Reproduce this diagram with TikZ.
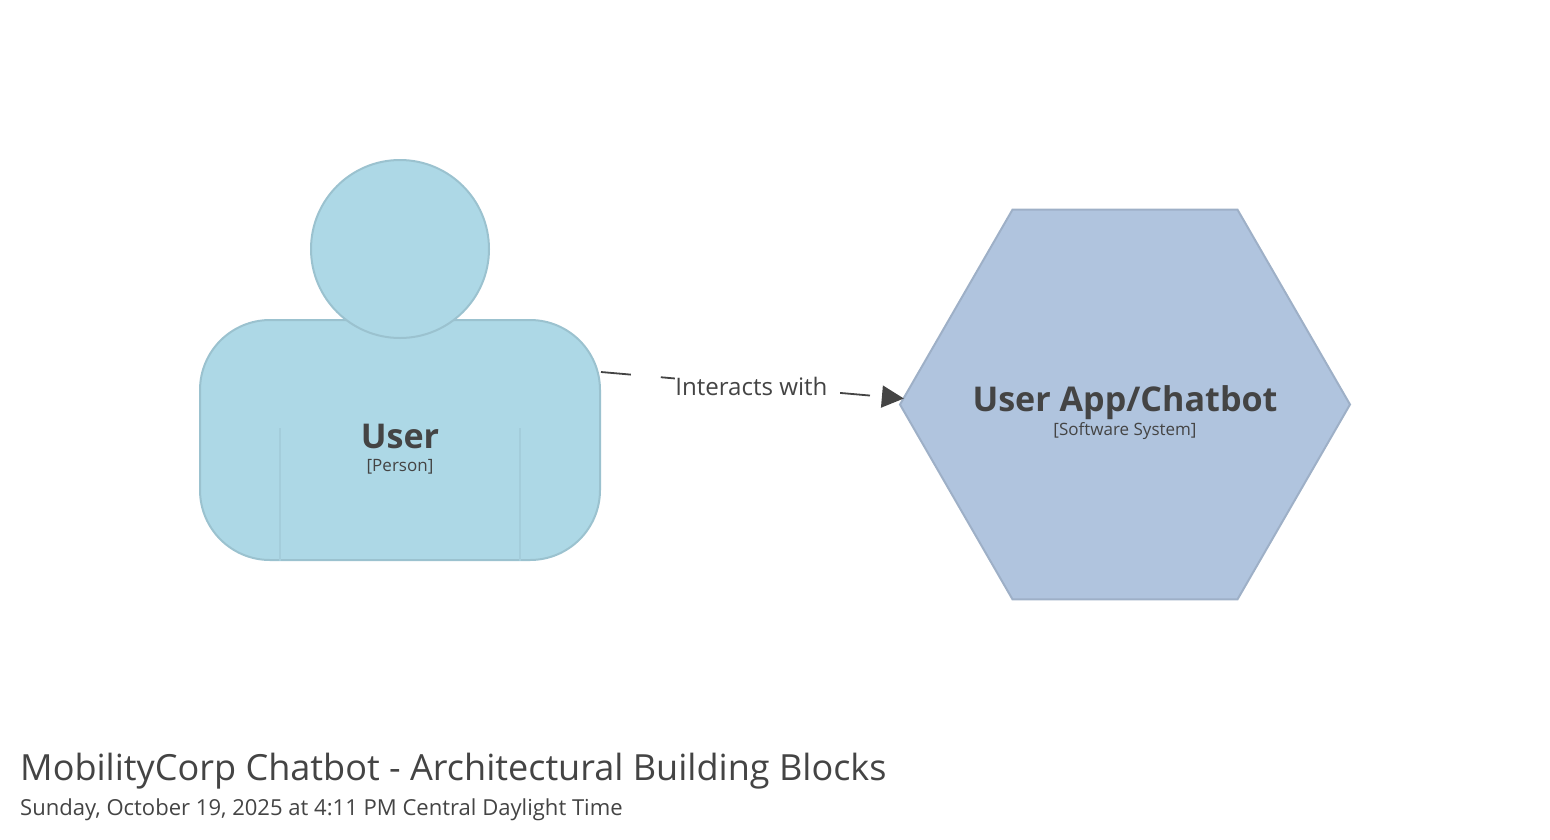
\documentclass[tikz,border=0pt]{standalone}
\usepackage{fontspec}
\setmainfont{Open Sans}
\usetikzlibrary{arrows.meta,positioning,shapes.geometric}
\definecolor{textgrey}{HTML}{444444}
\definecolor{personfill}{HTML}{ADD8E6}
\definecolor{personline}{HTML}{9BC2CF}
\definecolor{systemfill}{HTML}{B0C4DE}
\definecolor{systemline}{HTML}{9EB0C7}
\tikzset{
  personpart/.style={draw=personline,fill=personfill,line width=2pt},
  namelabel/.style={text=textgrey,font=\fontsize{34.1}{40}\selectfont\bfseries,inner sep=0pt},
  kindlabel/.style={text=textgrey,font=\fontsize{17}{20}\selectfont,inner sep=0pt},
  relation/.style={draw=textgrey,line width=1.8pt,dash pattern=on 30pt off 30pt,
    -{Triangle[length=22pt,width=22pt,fill=textgrey]}}
}
\begin{document}
\begin{tikzpicture}[x=1pt,y=-1pt]
  \useasboundingbox (0,0) rectangle (1550,839);
  \node[personpart,rounded corners=70pt,minimum width=400pt,minimum height=240pt] (body) at (400,440) {};
  \node[personpart,circle,minimum size=178pt] (head) at (400,249) {};
  \draw[personline!50!personfill,line width=2pt] ([xshift=-120pt,yshift=133pt]body.south) -- ([xshift=-120pt]body.south);
  \draw[personline!50!personfill,line width=2pt] ([xshift=120pt,yshift=133pt]body.south) -- ([xshift=120pt]body.south);
  \node[namelabel] (username) at (400,436) {User};
  \node[kindlabel,below=11pt of username] (userkind) {[Person]};
  \node[regular polygon,regular polygon sides=6,minimum size=450pt,
    inner sep=0pt,draw=systemline,fill=systemfill,line width=2pt] (chatbot) at (1125,404.5) {};
  \node[namelabel] (chatbotname) at (1125,403) {User App/Chatbot};
  \node[kindlabel,below=2pt of chatbotname] (chatbotkind) {[Software System]};
  \draw[relation] ([yshift=68pt]body.east) -- node[fill=white,text=textgrey,inner xsep=0pt,inner ysep=2pt,
    xshift=-1pt,yshift=-1pt,font=\fontsize{24.1}{28}\selectfont] (relationlabel) {Interacts with} ([xshift=5pt,yshift=6pt]chatbot.west);
  \node[text=textgrey,anchor=base west,inner sep=0pt,font=\fontsize{36.05}{42}\selectfont] (title) at (20,780) {MobilityCorp Chatbot - Architectural Building Blocks};
  \node[text=textgrey,anchor=base west,inner sep=0pt,font=\fontsize{22.05}{26}\selectfont] (subtitle) at (20,815) {Sunday, October 19, 2025 at 4:11 PM Central Daylight Time};
\end{tikzpicture}
\end{document}
